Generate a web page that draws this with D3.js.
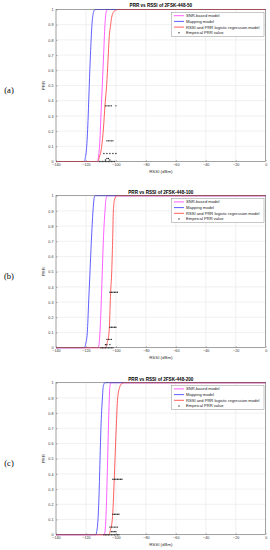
<!DOCTYPE html>
<html>
<head>
<meta charset="utf-8">
<script src="https://cdnjs.cloudflare.com/ajax/libs/d3/7.8.5/d3.min.js"></script>
<style>
    body { margin: 0; background: #fff; }
    svg { display: block; }
    text { font-family: "Liberation Sans", Arial, sans-serif; }
</style>
</head>
<body>
<script>
// Panel names and titles
var panelLabels = ['(a)', '(b)', '(c)'];
var panelTitles = ['PRR vs RSSI of 2FSK-448-50', 'PRR vs RSSI of 2FSK-448-100', 'PRR vs RSSI of 2FSK-448-200'];

// Legend entries (in draw order)
var seriesNames = ['SNR-based model', 'Mapping model', 'RSSI and PRR logistic regression model', 'Empirical PRR value'];

// Tick labels
var xTicks = [-140, -120, -100, -80, -60, -40, -20, 0];
var yTicks = [0, 0.1, 0.2, 0.3, 0.4, 0.5, 0.6, 0.7, 0.8, 0.9, 1];

// SNR-based model curves [RSSI, PRR]
var snrA = [[-140, 0], [-112.3, 0], [-111.8, 0.02], [-110.8, 0.12], [-109.8, 0.35], [-109.1, 0.5], [-108.3, 0.68], [-107.3, 0.9], [-106.6, 0.98], [-105.5, 1], [0, 1]];
var snrB = [[-140, 0], [-111.8, 0], [-111.3, 0.02], [-110.4, 0.15], [-109.6, 0.35], [-109.1, 0.5], [-108.4, 0.7], [-107.3, 0.9], [-106.6, 0.98], [-105.5, 1], [0, 1]];
var snrC = [[-140, 0], [-107.8, 0], [-107.3, 0.02], [-106.5, 0.15], [-105.9, 0.35], [-105.5, 0.5], [-105, 0.7], [-104.4, 0.9], [-104, 0.98], [-102.8, 1], [0, 1]];

// Mapping model curves
var mapA = [[-140, 0], [-121, 0], [-120.5, 0.02], [-119.5, 0.1], [-118.5, 0.3], [-117.8, 0.5], [-117, 0.7], [-116, 0.9], [-115, 0.98], [-114, 1], [0, 1]];
var mapB = [[-140, 0], [-121, 0], [-120.3, 0.02], [-119.1, 0.1], [-118.2, 0.3], [-117.3, 0.5], [-116.4, 0.7], [-115.3, 0.9], [-114.6, 0.98], [-114, 1], [0, 1]];
var mapC = [[-140, 0], [-113.5, 0], [-112.8, 0.02], [-111.7, 0.15], [-111, 0.35], [-110.6, 0.5], [-110, 0.7], [-109, 0.9], [-108.4, 0.98], [-107.3, 1], [0, 1]];

// RSSI and PRR logistic regression model curves
var logA = [[-140, 0], [-112, 0], [-111.3, 0.02], [-109.5, 0.1], [-108.3, 0.22], [-107.3, 0.37], [-106.2, 0.5], [-105.2, 0.68], [-104.6, 0.8], [-103.5, 0.9], [-102.8, 0.95], [-101, 0.99], [-98.5, 1], [0, 1]];
var logB = [[-140, 0], [-106.8, 0], [-106.2, 0.02], [-104.6, 0.1], [-103.5, 0.37], [-102.8, 0.5], [-102.2, 0.7], [-101.7, 0.9], [-101, 0.97], [-99.5, 1], [0, 1]];
var logC = [[-140, 0], [-104.5, 0], [-104, 0.02], [-102.4, 0.1], [-101.1, 0.37], [-100.6, 0.5], [-99.8, 0.7], [-98.8, 0.9], [-97.5, 0.97], [-96, 0.995], [-94.4, 1], [0, 1]];

// Empirical PRR values
var empA = [[-107, 0.366], [-106, 0.366], [-105, 0.366], [-104, 0.366], [-103, 0.366], [-100, 0.366],
    [-106, 0.136], [-105, 0.136], [-104, 0.136], [-103, 0.136], [-102, 0.136],
    [-108, 0.053], [-106, 0.053], [-104, 0.053], [-102, 0.053], [-100, 0.053],
    [-106, 0.02], [-105, 0.02], [-107, 0.01], [-104, 0.01],
    [-111, 0], [-110, 0], [-109, 0], [-108, 0], [-107, 0], [-106, 0], [-105, 0], [-104, 0], [-103, 0], [-102, 0], [-101, 0]];
var empB = [[-104, 0.365], [-103, 0.365], [-102, 0.365], [-101, 0.365], [-100, 0.365], [-99, 0.365],
    [-104, 0.135], [-103, 0.135], [-102, 0.135], [-101, 0.135], [-100, 0.135],
    [-106, 0.055], [-105, 0.055], [-104, 0.055], [-103, 0.055],
    [-107, 0.02], [-106, 0.02], [-104, 0.02],
    [-110, 0], [-109, 0], [-108, 0], [-107, 0], [-106, 0], [-105, 0], [-104, 0], [-103, 0], [-102, 0]];
var empC = [[-102, 0.365], [-101, 0.365], [-100, 0.365], [-99, 0.365], [-98, 0.365], [-97, 0.365], [-96, 0.365],
    [-102, 0.135], [-101, 0.135], [-100, 0.135], [-99, 0.135], [-98, 0.135],
    [-104, 0.05], [-103, 0.05], [-102, 0.05], [-101, 0.05], [-100, 0.05], [-99, 0.05],
    [-103, 0.02], [-102, 0.02], [-101, 0.02], [-100, 0.02],
    [-108, 0], [-107, 0], [-106, 0], [-105, 0], [-104, 0], [-103, 0], [-102, 0], [-101, 0], [-100, 0], [-99, 0], [-98, 0]];

var snrCurves = [snrA, snrB, snrC];
var mapCurves = [mapA, mapB, mapC];
var logCurves = [logA, logB, logC];
var empPoints = [empA, empB, empC];

var colors = ['#ff4dff', '#4d4dff', '#ff4d4d', '#000'];

var W = 270, H = 550;
var svg = d3.select('body').append('svg').attr('width', W).attr('height', H);

// Plot box geometry shared by the three panels
var left = 56, right = 265.7, plotH = 152;
var panelTops = [9.5, 195.7, 382.7];

var x = d3.scaleLinear().domain([-140, 0]).range([left, right]);

panelTops.forEach(function(top, i) {
    var y = d3.scaleLinear().domain([0, 1]).range([top + plotH, top]);
    var g = svg.append('g');

    // Grid lines
    g.selectAll('.gx').data(xTicks).enter().append('line')
        .attr('x1', function(d) {return x(d);}).attr('x2', function(d) {return x(d);})
        .attr('y1', top).attr('y2', top + plotH)
        .style('stroke', '#e3e3e3').style('stroke-width', 0.5);
    g.selectAll('.gy').data(yTicks).enter().append('line')
        .attr('x1', left).attr('x2', right)
        .attr('y1', function(d) {return y(d);}).attr('y2', function(d) {return y(d);})
        .style('stroke', '#e3e3e3').style('stroke-width', 0.5);

    // Axes (ticks inward, like MATLAB)
    var xAxis = g.append('g').attr('transform', 'translate(0,' + (top + plotH) + ')')
        .call(d3.axisBottom(x).tickValues(xTicks).tickSizeInner(-1.5).tickSizeOuter(0).tickPadding(2));
    var yAxis = g.append('g').attr('transform', 'translate(' + left + ',0)')
        .call(d3.axisLeft(y).tickValues(yTicks).tickFormat(d3.format('~g')).tickSizeInner(-1.5).tickSizeOuter(0).tickPadding(2.5));
    [xAxis, yAxis].forEach(function(a) {
        a.select('.domain').remove();
        a.selectAll('line').style('stroke', '#555').style('stroke-width', 0.4);
        a.selectAll('text').style('font-size', '3.7px').style('fill', '#333').style('font-family', '"Liberation Sans", Arial, sans-serif');
    });

    // Curves
    var line = d3.line()
        .x(function(d) {return x(d[0]);})
        .y(function(d) {return y(d[1]);})
        .curve(d3.curveMonotoneX);
    [snrCurves[i], mapCurves[i], logCurves[i]].forEach(function(c, k) {
        g.append('path').datum(c).attr('d', line)
            .style('fill', 'none').style('stroke', colors[k]).style('stroke-width', 0.9);
    });

    // Empirical points
    g.selectAll('.emp').data(empPoints[i]).enter().append('circle')
        .attr('cx', function(d) {return x(d[0]);})
        .attr('cy', function(d) {return y(d[1]);})
        .attr('r', 0.7)
        .style('fill', '#222');

    // Box
    g.append('rect').attr('x', left).attr('y', top).attr('width', right - left).attr('height', plotH)
        .style('fill', 'none').style('stroke', '#555').style('stroke-width', 0.5);

    // Title and axis labels
    g.append('text').attr('x', (left + right) / 2).attr('y', top - 2.2)
        .attr('text-anchor', 'middle').style('font-size', '4.6px').style('font-weight', 'bold')
        .text(panelTitles[i]);
    g.append('text').attr('x', (left + right) / 2).attr('y', top + plotH + 11.5)
        .attr('text-anchor', 'middle').style('font-size', '4.4px').style('fill', '#333')
        .text('RSSI (dBm)');
    g.append('text').attr('transform', 'translate(' + 44.5 + ',' + (top + plotH / 2) + ') rotate(-90)')
        .attr('text-anchor', 'middle').style('font-size', '4.4px').style('fill', '#333')
        .text('PRR');

    // Panel letter
    g.append('text').attr('x', 9).attr('y', top + 83.5)
        .attr('text-anchor', 'middle').style('font-family', '"Liberation Serif", serif')
        .style('font-size', '8.5px')
        .text(panelLabels[i]);

    // Legend
    var lg = g.append('g');
    lg.append('rect').attr('x', 171.5).attr('y', top + 2.8).attr('width', 92.5).attr('height', 24)
        .style('fill', '#fff').style('stroke', '#777').style('stroke-width', 0.4);
    seriesNames.forEach(function(name, k) {
        var ly = top + 6.2 + k * 5.7;
        if (k < 3) {
            lg.append('line').attr('x1', 174).attr('x2', 184).attr('y1', ly).attr('y2', ly)
                .style('stroke', colors[k]).style('stroke-width', 0.9);
        } else {
            lg.append('circle').attr('cx', 179).attr('cy', ly).attr('r', 0.7).style('fill', '#222');
        }
        lg.append('text').attr('x', 186).attr('y', ly + 1.4)
            .style('font-size', '4.1px').style('fill', '#222')
            .text(name);
    });
});
</script>
</body>
</html>
